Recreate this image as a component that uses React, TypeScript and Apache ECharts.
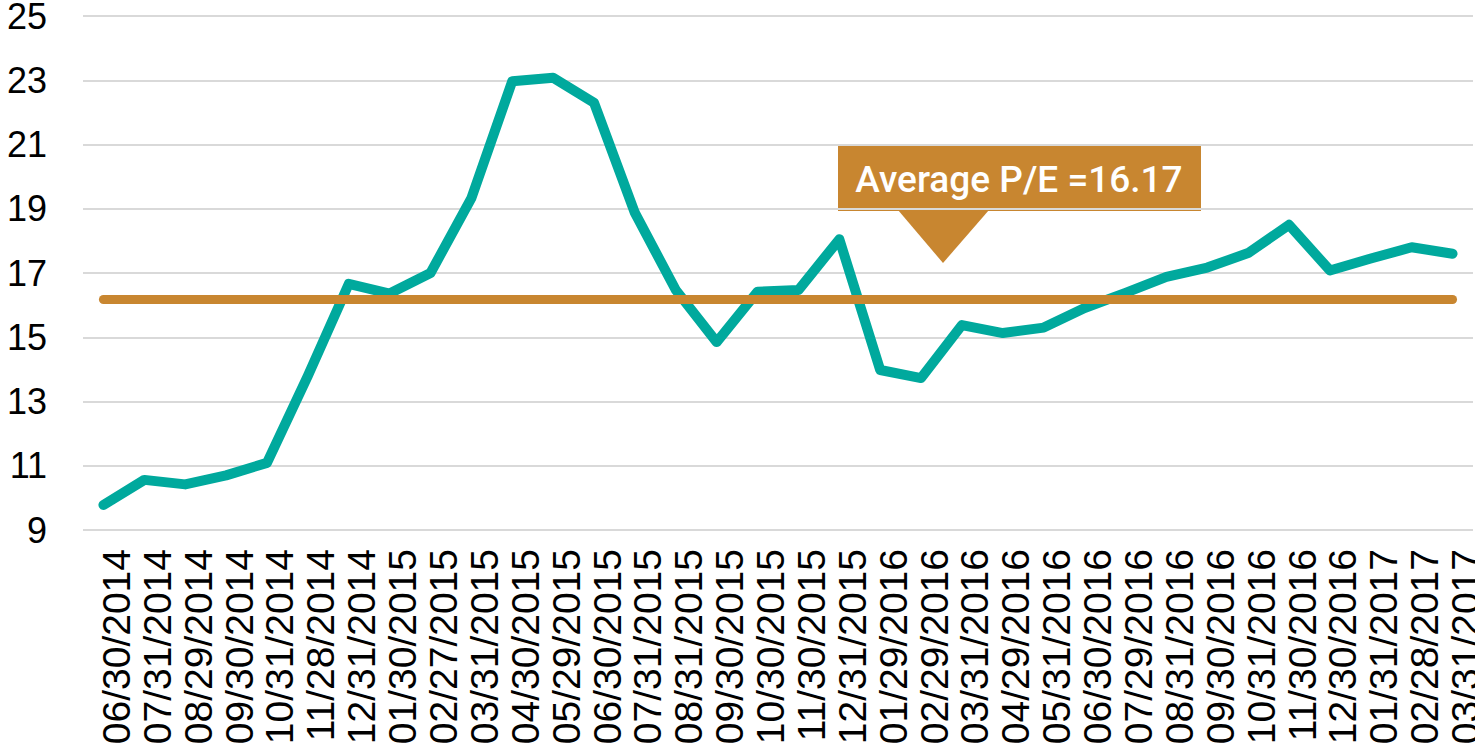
import React, { useEffect, useRef } from "react";
import * as echarts from "echarts";

const categories = [
  "06/30/2014", "07/31/2014", "08/29/2014", "09/30/2014", "10/31/2014", "11/28/2014", "12/31/2014",
  "01/30/2015", "02/27/2015", "03/31/2015", "04/30/2015", "05/29/2015", "06/30/2015", "07/31/2015",
  "08/31/2015", "09/30/2015", "10/30/2015", "11/30/2015", "12/31/2015",
  "01/29/2016", "02/29/2016", "03/31/2016", "04/29/2016", "05/31/2016", "06/30/2016", "07/29/2016",
  "08/31/2016", "09/30/2016", "10/31/2016", "11/30/2016", "12/30/2016",
  "01/31/2017", "02/28/2017", "03/31/2017",
];

const peValues = [
  9.78, 10.56, 10.42, 10.7, 11.09, 13.8, 16.66,
  16.36, 17.0, 19.33, 22.97, 23.08, 22.3, 18.87,
  16.47, 14.85, 16.42, 16.47, 18.05,
  13.98, 13.73, 15.38, 15.13, 15.3, 15.91, 16.38,
  16.88, 17.17, 17.62, 18.5, 17.08,
  17.45, 17.8, 17.6,
];

const averagePE = 16.17;
const yTicks = [9, 11, 13, 15, 17, 19, 21, 23, 25];
const annotationText = "Average P/E =16.17";

const TEAL = "#00A99D";
const GOLD = "#C88630";

export default function App() {
  const ref = useRef<HTMLDivElement>(null);

  useEffect(() => {
    if (!ref.current) return;
    const chart = echarts.init(ref.current, null, { renderer: "svg" });
    chart.setOption({
      animation: false,
      backgroundColor: "#ffffff",
      grid: { left: 83, right: 2, top: 16, bottom: 214, outerBoundsMode: "none" },
      xAxis: {
        type: "category",
        data: categories,
        boundaryGap: true,
        axisLine: { show: false },
        axisTick: { show: false },
        splitLine: { show: false },
        axisLabel: {
          interval: 0,
          rotate: 90,
          margin: 19,
          color: "#000000",
          fontSize: 39,
          lineHeight: 26,
          verticalAlign: "top",
          fontFamily: "Liberation Sans, Arial, sans-serif",
        },
      },
      yAxis: {
        type: "value",
        min: 9,
        max: 25,
        axisLine: { show: false },
        axisTick: { show: false, customValues: yTicks },
        axisLabel: {
          customValues: yTicks,
          margin: 36,
          color: "#000000",
          fontSize: 36,
          fontFamily: "Liberation Sans, Arial, sans-serif",
        },
        splitLine: { show: true, lineStyle: { color: "#D9D9D9", width: 2 } },
      },
      series: [
        {
          type: "line",
          data: peValues,
          symbol: "none",
          lineStyle: { color: TEAL, width: 10, cap: "round", join: "round" },
          markLine: {
            silent: true,
            symbol: "none",
            label: { show: false },
            lineStyle: { color: GOLD, width: 9, type: "solid", cap: "round" },
            data: [
              [
                { coord: [categories[0], averagePE] },
                { coord: [categories[categories.length - 1], averagePE] },
              ],
            ],
          },
        },
      ],
      graphic: [
        {
          type: "group",
          z: 100,
          children: [
            {
              type: "rect",
              shape: { x: 838, y: 144, width: 363, height: 67 },
              style: { fill: GOLD },
            },
            {
              type: "polygon",
              shape: { points: [[898, 210], [989, 210], [943, 263]] },
              style: { fill: GOLD },
            },
            {
              type: "text",
              x: 1019,
              y: 179,
              style: {
                text: annotationText,
                fill: "#ffffff",
                fontSize: 37,
                fontWeight: 500,
                fontFamily: "Roboto, sans-serif",
                align: "center",
                verticalAlign: "middle",
              },
            },
          ],
        },
      ],
    });
    return () => chart.dispose();
  }, []);

  return (
    <div
      ref={ref}
      style={{ position: "fixed", left: 0, top: 0, width: 1475, height: 744 }}
    />
  );
}
